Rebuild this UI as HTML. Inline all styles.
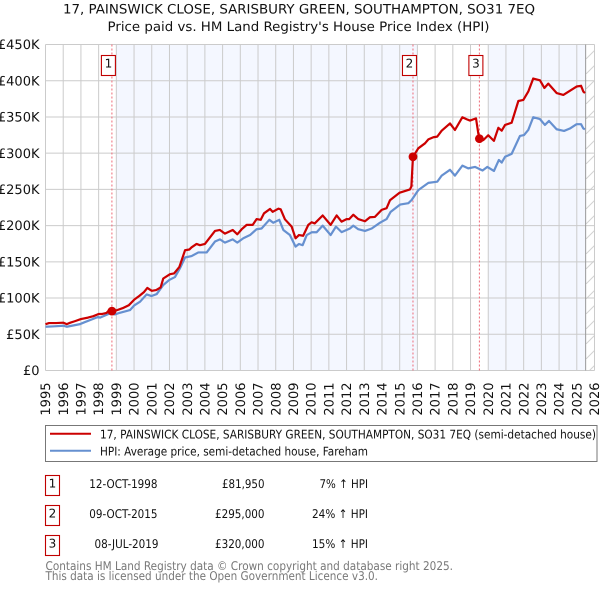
<!DOCTYPE html>
<html lang="en">
<head>
<meta charset="utf-8">
<title>17, Painswick Close price chart</title>
<style>
html,body{margin:0;padding:0;background:#fff;}
svg{display:block;}
text{font-family:"DejaVu Sans","Liberation Sans",sans-serif;fill:#111;text-rendering:geometricPrecision;}
</style>
</head>
<body>
<svg id="chart" xmlns="http://www.w3.org/2000/svg" width="600" height="590" viewBox="0 0 600 590">
  <defs>
    <pattern id="hatch" patternUnits="userSpaceOnUse" x="586" y="44" width="15" height="15">
      <line x1="-1" y1="16" x2="16" y2="-1" stroke="#d2d2d2" stroke-width="1"></line>
    </pattern>
  </defs>
  <g>
    <text x="63" y="13.5" font-size="13" textLength="472" lengthAdjust="spacingAndGlyphs">17, PAINSWICK CLOSE, SARISBURY GREEN, SOUTHAMPTON, SO31 7EQ</text>
    <text x="107.5" y="31" font-size="13" textLength="382" lengthAdjust="spacingAndGlyphs">Price paid vs. HM Land Registry's House Price Index (HPI)</text>
  </g>
  <g id="bands"></g>
  <rect id="hatchRect" fill="url(#hatch)"></rect>
  <g id="grid"></g>
  <g id="yTicks"></g>
  <g id="xTicks"></g>
  <g id="saleLines"></g>
  <g id="series"></g>
  <g id="saleDots"></g>
  <g id="saleBoxes"></g>

  <g>
    <rect x="45.5" y="425.5" width="551.5" height="36" fill="#fff" stroke="#777" stroke-width="1"></rect>
    <line x1="50" y1="433.8" x2="91" y2="433.8" stroke="#cc0000" stroke-width="2"></line>
    <text x="100" y="438.3" font-size="12" textLength="496" lengthAdjust="spacingAndGlyphs">17, PAINSWICK CLOSE, SARISBURY GREEN, SOUTHAMPTON, SO31 7EQ (semi-detached house)</text>
    <line x1="50" y1="450.8" x2="91" y2="450.8" stroke="#6690d0" stroke-width="2"></line>
    <text x="100" y="455.3" font-size="12" textLength="268" lengthAdjust="spacingAndGlyphs">HPI: Average price, semi-detached house, Fareham</text>
  </g>

  <g font-size="12">
    <rect x="45.5" y="475.5" width="14" height="20" fill="#fff" stroke="#c00000" stroke-width="1.1"></rect>
    <text x="52.5" y="487.5" font-size="12" text-anchor="middle">1</text>
    <text x="89.3" y="488" font-size="12" textLength="68.2" lengthAdjust="spacingAndGlyphs">12-OCT-1998</text>
    <text x="222" y="488" font-size="12" textLength="42.5" lengthAdjust="spacingAndGlyphs">£81,950</text>
    <text x="319.5" y="488" font-size="12" textLength="48.5" lengthAdjust="spacingAndGlyphs">7% ↑ HPI</text>

    <rect x="45.5" y="505.5" width="14" height="20" fill="#fff" stroke="#c00000" stroke-width="1.1"></rect>
    <text x="52.5" y="517.5" font-size="12" text-anchor="middle">2</text>
    <text x="89.3" y="518" font-size="12" textLength="68.2" lengthAdjust="spacingAndGlyphs">09-OCT-2015</text>
    <text x="215" y="518" font-size="12" textLength="49.5" lengthAdjust="spacingAndGlyphs">£295,000</text>
    <text x="312" y="518" font-size="12" textLength="56" lengthAdjust="spacingAndGlyphs">24% ↑ HPI</text>

    <rect x="45.5" y="535.5" width="14" height="20" fill="#fff" stroke="#c00000" stroke-width="1.1"></rect>
    <text x="52.5" y="547.5" font-size="12" text-anchor="middle">3</text>
    <text x="94.5" y="548" font-size="12" textLength="64" lengthAdjust="spacingAndGlyphs">08-JUL-2019</text>
    <text x="215" y="548" font-size="12" textLength="49.5" lengthAdjust="spacingAndGlyphs">£320,000</text>
    <text x="312" y="548" font-size="12" textLength="56" lengthAdjust="spacingAndGlyphs">15% ↑ HPI</text>
  </g>

  <g>
    <text x="45.5" y="570" font-size="12" style="fill:#777" textLength="407.5" lengthAdjust="spacingAndGlyphs">Contains HM Land Registry data © Crown copyright and database right 2025.</text>
    <text x="45.5" y="580" font-size="12" style="fill:#777" textLength="332.5" lengthAdjust="spacingAndGlyphs">This data is licensed under the Open Government Licence v3.0.</text>
  </g>
</svg>
<script>
const yearTicks = [1995,1996,1997,1998,1999,2000,2001,2002,2003,2004,2005,2006,2007,2008,2009,2010,2011,2012,2013,2014,2015,2016,2017,2018,2019,2020,2021,2022,2023,2024,2025,2026];
const priceTicks = [0,50,100,150,200,250,300,350,400,450];
const priceTickLabels = ["£0","£50K","£100K","£150K","£200K","£250K","£300K","£350K","£400K","£450K"];

const propertyYears = [1995.0,1995.2,1995.6,1996.0,1996.2,1996.4,1996.65,1997.0,1997.4,1997.7,1998.0,1998.2,1998.45,1998.6,1998.75,1999.0,1999.35,1999.7,2000.02,2000.3,2000.55,2000.75,2001.0,2001.25,2001.5,2001.65,2002.03,2002.26,2002.56,2002.88,2003.12,2003.25,2003.53,2003.72,2004.0,2004.57,2004.85,2005.13,2005.57,2005.83,2006.08,2006.36,2006.7,2006.92,2007.15,2007.34,2007.68,2007.83,2008.15,2008.28,2008.52,2008.9,2009.12,2009.31,2009.55,2009.84,2010.03,2010.2,2010.65,2011.1,2011.44,2011.72,2012.0,2012.15,2012.38,2012.66,2013.04,2013.32,2013.6,2013.98,2014.26,2014.45,2015.0,2015.58,2015.66,2015.75,2016.05,2016.43,2016.62,2016.9,2017.12,2017.37,2017.84,2018.12,2018.54,2018.78,2018.97,2019.31,2019.44,2019.5,2019.72,2020.0,2020.32,2020.57,2020.76,2020.95,2021.32,2021.7,2021.98,2022.26,2022.54,2022.92,2023.17,2023.39,2023.86,2024.24,2024.61,2024.99,2025.24,2025.37,2025.46];
const propertyValues = [64,65.5,65.5,66,64,66,68,71,73,75,78,78,79.5,83.5,81.95,83,86,90,98,103,108,114,110,111,114.7,127,133,134,143,166,167,170,174.7,173,174.7,192.6,194,189,194,188,195,201,201,209,208,217,223,219,223.4,222.5,208.7,198.6,182.5,187,186,201,204.6,203,214,201,214,205.5,209,209,215,209,206,211.5,212,221.7,224,235,245.5,250,254,295,306.7,313.6,319,322,322.8,331,341,332,349.6,346.8,345,348,327,320,318,324.7,317,335,331,339,342,372,373.5,385,403,400.6,390,396,383,380.4,386,392,393,385,383];

const hpiYears = [1995,1995.5,1996,1996.2,1996.95,1997.14,1997.98,1998.08,1998.64,1998.92,1999.2,1999.77,2000.02,2000.34,2000.71,2000.99,2001.28,2001.65,2001.99,2002.31,2002.59,2002.88,2003.25,2003.63,2004.1,2004.57,2004.85,2005.13,2005.57,2005.83,2006.17,2006.55,2006.92,2007.2,2007.64,2007.86,2008.2,2008.43,2008.8,2009.12,2009.31,2009.52,2009.75,2010.03,2010.31,2010.65,2011.1,2011.4,2011.72,2012.19,2012.38,2012.66,2013.04,2013.42,2013.89,2014.26,2014.49,2015.02,2015.49,2015.68,2016.05,2016.62,2017.12,2017.37,2017.84,2018.12,2018.54,2018.87,2019.25,2019.68,2019.95,2020.32,2020.6,2020.76,2020.95,2021.32,2021.79,2022.02,2022.26,2022.54,2022.92,2023.2,2023.43,2023.86,2024.28,2024.61,2024.99,2025.24,2025.37,2025.46];
const hpiValues = [60.4,61,61.8,60.4,64,66,74,73,78.8,77.4,79.7,83.4,90,95,105,102.8,105.5,118,125,129,141,156,158,163,163,178,181,176.5,181,176.5,182.5,187,195,196,208,204,208,194,187,171,174.6,173,187,190.8,190.8,200,187,198.6,191,196,200,195,192.6,196,204,209,219,229,231,235.5,249,259,260.6,269,277,269,282.8,279,281,276,281,275.4,290.6,287,295,299,323.8,325,332,349.6,347,339,344.5,333,330.7,334,340,340,334,333];

const saleYears = [1998.75,2015.75,2019.5];
const salePrices = [81.95,295,320];
const saleLabels = ["1","2","3"];
const bandStarts = [1999,2020];
const bandEnds = [2016,2025.5];
const latestYear = 2025.5;

const SVGNS = "http://www.w3.org/2000/svg";
const plotLeft = 45.5, plotRight = 594.5, plotTop = 44.5, plotBottom = 370.5;
const firstYear = 1995, lastYear = 2026, maxPrice = 450;
function xScale(year){ return plotLeft + (year - firstYear) * (plotRight - plotLeft) / (lastYear - firstYear); }
function yScale(price){ return plotBottom - price * (plotBottom - plotTop) / maxPrice; }
function make(tag, attrs, parent){
  const el = document.createElementNS(SVGNS, tag);
  for (const k in attrs) el.setAttribute(k, attrs[k]);
  parent.appendChild(el);
  return el;
}

const bandsG = document.getElementById('bands');
bandStarts.forEach(function(s, i){
  const r = make('rect', {x:xScale(s), y:plotTop, width:xScale(bandEnds[i])-xScale(s), height:plotBottom-plotTop, fill:'#f4f7ff'}, bandsG);
  
  
});

const hatchRect = document.getElementById('hatchRect');
hatchRect.setAttribute('x', xScale(latestYear));
hatchRect.setAttribute('y', plotTop);
hatchRect.setAttribute('width', plotRight - xScale(latestYear));
hatchRect.setAttribute('height', plotBottom - plotTop);

const gridG = document.getElementById('grid');
yearTicks.forEach(function(y){
  const l = make('line', {x1:xScale(y), x2:xScale(y), y1:plotTop, y2:plotBottom, stroke:'#cbcbcb', 'stroke-width':1}, gridG);
  
  
});
priceTicks.forEach(function(p){
  const l = make('line', {x1:plotLeft, x2:plotRight, y1:yScale(p), y2:yScale(p), stroke:'#cbcbcb', 'stroke-width':1}, gridG);
  
  
});
const nowLine = make('line', {x1:xScale(latestYear), x2:xScale(latestYear), y1:plotTop, y2:plotBottom, stroke:'#999', 'stroke-width':1}, gridG);



const yTicksG = document.getElementById('yTicks');
priceTicks.forEach(function(p, i){
  const t = make('text', {x:39.5, y:yScale(p)+4.6, 'text-anchor':'end', 'font-size':13}, yTicksG);
  t.textContent = priceTickLabels[i];
  
  
});

const xTicksG = document.getElementById('xTicks');
yearTicks.forEach(function(y){
  const px = xScale(y) + 4.6;
  const t = make('text', {x:px, y:382.5, 'text-anchor':'end', 'font-size':13, transform:'rotate(-90 ' + px + ' 382.5)'}, xTicksG);
  t.textContent = String(y);
  
  
});

const saleLinesG = document.getElementById('saleLines');
saleYears.forEach(function(y){
  const l = make('line', {x1:xScale(y), x2:xScale(y), y1:plotTop, y2:plotBottom, stroke:'#ee6a78', 'stroke-width':1, 'stroke-dasharray':'2 2'}, saleLinesG);
  
  
});

function linePoints(years, values){
  return years.map(function(y, i){ return xScale(y).toFixed(2) + ',' + yScale(values[i]).toFixed(2); }).join(' ');
}
const seriesG = document.getElementById('series');
const hpiLine = make('polyline', {points:linePoints(hpiYears, hpiValues), fill:'none', stroke:'#6690d0', 'stroke-width':2.2, 'stroke-linejoin':'round'}, seriesG);


const propertyLine = make('polyline', {points:linePoints(propertyYears, propertyValues), fill:'none', stroke:'#cc0000', 'stroke-width':2.2, 'stroke-linejoin':'round'}, seriesG);



const dotsG = document.getElementById('saleDots');
saleYears.forEach(function(y, i){
  const c = make('circle', {cx:xScale(y), cy:yScale(salePrices[i]), r:4.4, fill:'#cc0000'}, dotsG);
  
  
});

const boxesG = document.getElementById('saleBoxes');
saleYears.forEach(function(y, i){
  const b = make('rect', {x:xScale(y)-10.5, y:55.5, width:14, height:20, fill:'#fff', stroke:'#c00000', 'stroke-width':1.1}, boxesG);
  
  
  const t = make('text', {x:xScale(y)-3.5, y:67.5, 'text-anchor':'middle', 'font-size':12}, boxesG);
  t.textContent = saleLabels[i];
  
  
});
</script>
</body>
</html>
